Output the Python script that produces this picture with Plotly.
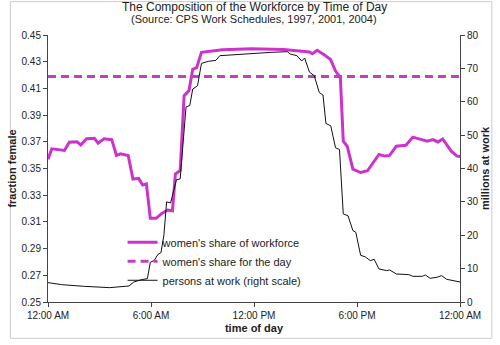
import plotly.graph_objects as go

# women's share of workforce (left axis), hours since midnight
share_hours = [0, 0.22, 0.96, 1.24, 1.69, 1.91, 2.25, 2.70, 2.92, 3.26, 3.71, 3.99, 4.22, 4.67,
               4.95, 5.28, 5.51, 5.73, 5.96, 6.30, 6.63, 6.97, 7.25, 7.42, 7.70, 7.93, 8.21,
               8.43, 8.66, 8.94, 10.17, 11.86, 13.72, 14.50, 15.23, 15.40, 15.68, 16.08, 16.46,
               16.75, 17.03, 17.20, 17.43, 17.76, 18.21, 18.61, 19.28, 19.62, 19.90, 20.29,
               20.85, 21.25, 21.59, 22.09, 22.43, 22.71, 22.99, 23.49, 23.83, 24.0]
share_values = [0.357, 0.3647, 0.3635, 0.3697, 0.370, 0.3677, 0.3723, 0.3726, 0.369, 0.3723,
                0.3716, 0.3598, 0.361, 0.3598, 0.3421, 0.3426, 0.3377, 0.3385, 0.3127, 0.3127,
                0.3164, 0.3189, 0.3184, 0.3458, 0.3485, 0.4046, 0.4083, 0.4243, 0.4255, 0.437,
                0.439, 0.4397, 0.4392, 0.438, 0.4373, 0.436, 0.4385, 0.4353, 0.4316, 0.423,
                0.4181, 0.3704, 0.3667, 0.3495, 0.347, 0.3483, 0.3605, 0.3593, 0.3598, 0.3667,
                0.3674, 0.3735, 0.3723, 0.3704, 0.3716, 0.3699, 0.3721, 0.363, 0.3593, 0.359]

# women's share for the day
day_hours = [0, 24]
day_share = [0.419, 0.419]

# persons at work, millions (right axis)
work_hours = [0, 0.79, 2.08, 3.60, 4.72, 5.00, 5.45, 5.79, 5.96, 6.18, 6.41, 6.58, 6.75, 6.91,
              7.14, 7.48, 7.70, 8.04, 8.26, 8.43, 8.71, 8.94, 9.33, 9.78, 10.01, 11.30, 11.86,
              12.98, 13.94, 14.11, 14.50, 14.78, 14.95, 15.23, 15.51, 15.80, 16.02, 16.19,
              16.47, 16.75, 16.98, 17.20, 17.48, 17.76, 17.93, 18.21, 18.49, 18.77, 19.00,
              19.28, 19.73, 19.90, 20.29, 21.02, 21.25, 21.81, 21.98, 22.26, 22.65, 22.93,
              23.22, 23.83, 24.0]
work_values = [5.8, 5.2, 4.7, 4.3, 4.8, 6.0, 6.7, 7.0, 11.9, 12.4, 14.3, 14.8, 20.0, 30.0,
               29.7, 36.6, 36.9, 58.4, 58.9, 63.8, 64.8, 71.5, 72.1, 72.4, 73.8, 74.3, 74.5,
               74.8, 75.0, 74.3, 73.8, 72.2, 73.1, 68.9, 67.8, 62.8, 62.0, 53.5, 52.8, 46.2,
               45.7, 26.4, 25.8, 21.4, 20.9, 14.0, 13.5, 12.4, 12.8, 9.9, 9.4, 9.6, 8.4, 8.2,
               7.7, 7.7, 8.1, 7.1, 7.4, 7.9, 6.8, 6.2, 6.0]

x_tickvals = [0, 6, 12, 18, 24]
x_ticktext = ["12:00 AM", "6:00 AM", "12:00 PM", "6:00 PM", "12:00 AM"]
left_ticks = [0.25, 0.27, 0.29, 0.31, 0.33, 0.35, 0.37, 0.39, 0.41, 0.43, 0.45]
right_ticks = [0, 10, 20, 30, 40, 50, 60, 70, 80]

title_text = "The Composition of the Workforce by Time of Day"
subtitle_text = "(Source: CPS Work Schedules, 1997, 2001, 2004)"

FONT = "Liberation Sans, Arial, sans-serif"
AX = "#444444"

fig = go.Figure()
fig.add_trace(go.Scatter(x=share_hours, y=share_values, mode="lines",
                         name="women's share of workforce",
                         line=dict(color="#CC33CC", width=3)))
fig.add_trace(go.Scatter(x=day_hours, y=day_share, mode="lines",
                         name="women's share for the day",
                         line=dict(color="#C040C0", width=3, dash="8px,5px")))
fig.add_trace(go.Scatter(x=work_hours, y=work_values, mode="lines", yaxis="y2",
                         name="persons at work (right scale)",
                         line=dict(color="#111111", width=1)))

fig.update_layout(
    width=500, height=345,
    margin=dict(l=39, r=34, t=35, b=38),
    paper_bgcolor="white", plot_bgcolor="white",
    font=dict(family=FONT, size=10, color="#222222"),
    showlegend=True,
    legend=dict(x=0.181, y=0.278, xanchor="left", yanchor="top",
                bgcolor="rgba(0,0,0,0)", font=dict(size=11, color="#222222"),
                tracegroupgap=0, itemwidth=30),
    xaxis=dict(range=[0, 24], tickvals=x_tickvals, ticktext=x_ticktext,
               showgrid=False, zeroline=False, showline=True, linecolor=AX,
               ticks="outside", ticklen=4, tickcolor=AX,
               title=dict(text="<b>time of day</b>", standoff=4, font=dict(size=11))),
    yaxis=dict(range=[0.25, 0.45], tickvals=left_ticks, tickformat=".2f",
               showgrid=False, zeroline=False, showline=True, linecolor=AX,
               ticks="outside", ticklen=4, tickcolor=AX,
               title=dict(text="<b>fraction female</b>", standoff=2, font=dict(size=11))),
    yaxis2=dict(range=[0, 80], tickvals=right_ticks, overlaying="y", side="right",
                showgrid=False, zeroline=False, showline=True, linecolor=AX,
                ticks="outside", ticklen=4, tickcolor=AX,
                title=dict(text="<b>millions at work</b>", standoff=2, font=dict(size=11))),
    annotations=[
        dict(text=title_text, xref="paper", yref="paper", x=0.501, y=1.103,
             xanchor="center", yanchor="middle", showarrow=False,
             font=dict(size=12, color="#222222")),
        dict(text=subtitle_text, xref="paper", yref="paper", x=0.499, y=1.059,
             xanchor="center", yanchor="middle", showarrow=False,
             font=dict(size=11, color="#222222")),
    ],
    shapes=[dict(type="rect", xref="paper", yref="paper",
                 x0=-39/427, x1=1 + 33/427, y0=-37/272, y1=1 + 34/272,
                 line=dict(color="#CCCCCC", width=1), fillcolor="rgba(0,0,0,0)", layer="below")],
)

fig.write_html("out.html")
